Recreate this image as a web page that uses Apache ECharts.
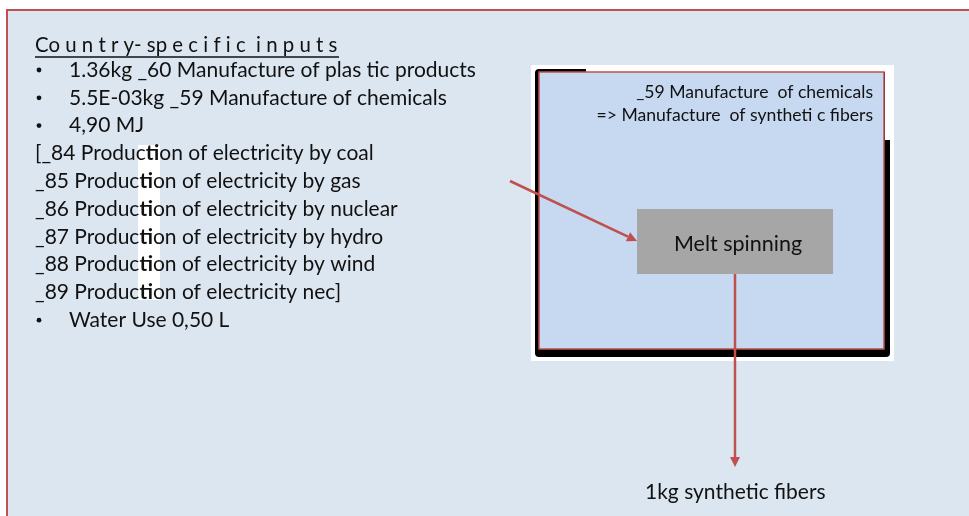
<!DOCTYPE html>
<html>
<head>
<meta charset="utf-8">
<script src="https://cdn.jsdelivr.net/npm/echarts@6/dist/echarts.min.js"></script>
<style>
  html, body { margin: 0; padding: 0; background: #fff; }
  #main { width: 969px; height: 516px; }
</style>
</head>
<body>
<div id="main"></div>
<script>
// texts of the diagram
var inputsTitle = 'Co u n t r y- sp e c i f i c  i n p u t s';
var inputLines = [
    { bullet: true,  text: '1.36kg _60 Manufacture of plas tic products' },
    { bullet: true,  text: '5.5E-03kg _59 Manufacture of chemicals' },
    { bullet: true,  text: '4,90 MJ' },
    { bullet: false, text: '[_84 Production of electricity by coal' },
    { bullet: false, text: '_85 Production of electricity by gas' },
    { bullet: false, text: '_86 Production of electricity by nuclear' },
    { bullet: false, text: '_87 Production of electricity by hydro' },
    { bullet: false, text: '_88 Production of electricity by wind' },
    { bullet: false, text: '_89 Production of electricity nec]' },
    { bullet: true,  text: 'Water Use 0,50 L' }
];
var processTitle = ['_59 Manufacture  of chemicals', '=> Manufacture  of syntheti c fibers'];
var processStep = 'Melt spinning';
var outputText = '1kg synthetic fibers';

var red = '#c0504d';
var font = 'Lato, "Open Sans", sans-serif';

// line with a triangle head at the end
function arrow(x1, y1, x2, y2) {
    var a = Math.atan2(y2 - y1, x2 - x1);
    var len = 10, w = 5;
    var bx = x2 - len * Math.cos(a), by = y2 - len * Math.sin(a);
    var px = -Math.sin(a) * w, py = Math.cos(a) * w;
    return [
        { type: 'line', shape: { x1: x1, y1: y1, x2: bx, y2: by }, style: { stroke: red, lineWidth: 2.5 } },
        { type: 'polygon', shape: { points: [[x2, y2], [bx + px, by + py], [bx - px, by - py]] }, style: { fill: red } }
    ];
}

var elements = [];
// outer frame
elements.push({ type: 'rect', shape: { x: 7, y: 10, width: 1000, height: 540 },
    style: { fill: '#dce6f1', stroke: red, lineWidth: 2 } });
// white strip behind the "ti" glyphs
elements.push({ type: 'rect', shape: { x: 138, y: 145, width: 22, height: 155 }, style: { fill: '#fff' } });

// left list
elements.push({ type: 'text', x: 35, y: 45, style: { text: inputsTitle, font: '20.4px ' + font, fill: '#111', verticalAlign: 'middle' } });
elements.push({ type: 'line', shape: { x1: 35, y1: 57, x2: 339, y2: 57 }, style: { stroke: '#111', lineWidth: 1.5 } });
inputLines.forEach(function (l, i) {
    var y = 70 + i * 27.8;
    if (l.bullet) {
        elements.push({ type: 'circle', shape: { cx: 39, cy: y, r: 2.4 }, style: { fill: '#111' } });
    }
    elements.push({ type: 'text', x: l.bullet ? 69 : 35, y: y,
        style: {
            text: l.text.replace('Production', 'Produc{b|ti}on'),
            font: '21px ' + font, fill: '#111', verticalAlign: 'middle',
            rich: { b: { fontWeight: 'bold', fontSize: 21, fontFamily: font } }
        } });
});

// process box with shadow
elements.push({ type: 'rect', shape: { x: 531, y: 65, width: 363, height: 296 }, style: { fill: '#fff' } });
elements.push({ type: 'rect', shape: { x: 535, y: 69, width: 355, height: 288, r: 4 }, style: { fill: '#000' } });
elements.push({ type: 'rect', shape: { x: 586, y: 65, width: 308, height: 7 }, style: { fill: '#fff' } });
elements.push({ type: 'rect', shape: { x: 885, y: 65, width: 9, height: 75 }, style: { fill: '#fff' } });
elements.push({ type: 'rect', shape: { x: 539, y: 72, width: 345, height: 277 },
    style: { fill: '#c6d9f1', stroke: red, lineWidth: 1.5 } });
processTitle.forEach(function (t, i) {
    elements.push({ type: 'text', x: 873, y: 92 + i * 23,
        style: { text: t, font: '17.6px ' + font, fill: '#111', align: 'right', verticalAlign: 'middle' } });
});
elements.push({ type: 'rect', shape: { x: 637, y: 209, width: 196, height: 65 }, style: { fill: '#a6a6a6' } });
elements.push({ type: 'text', x: 738, y: 244,
    style: { text: processStep, font: '21.5px ' + font, fill: '#111', align: 'center', verticalAlign: 'middle' } });

// flows
elements = elements.concat(arrow(510, 181, 637, 241));
elements = elements.concat(arrow(735, 274, 735, 467));
elements.push({ type: 'text', x: 645, y: 492,
    style: { text: outputText, font: '21px ' + font, fill: '#111', verticalAlign: 'middle' } });

var chart = echarts.init(document.getElementById('main'));
chart.setOption({
    backgroundColor: '#fff',
    animation: false,
    graphic: { elements: elements }
});
</script>
</body>
</html>
